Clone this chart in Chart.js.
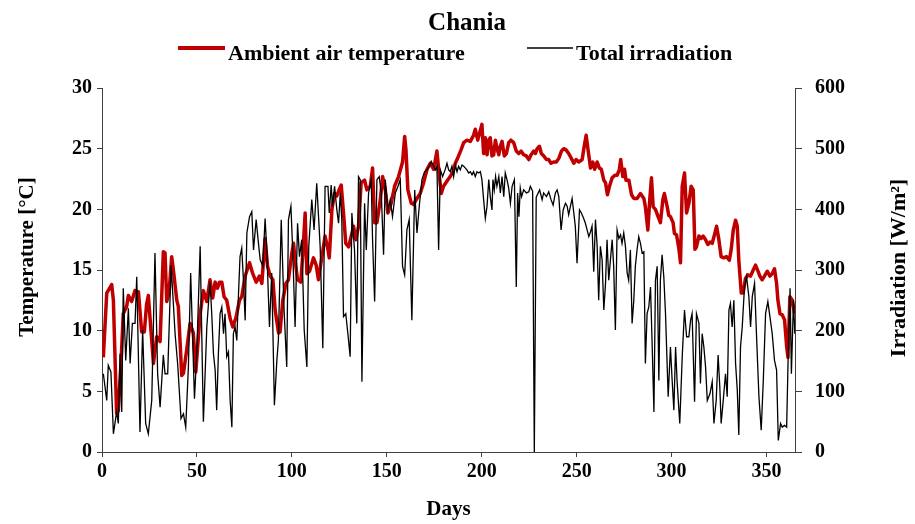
<!DOCTYPE html>
<html>
<head>
<meta charset="utf-8">
<title>Chania</title>
<script src="https://cdn.jsdelivr.net/npm/chart.js@4.4.1/dist/chart.umd.min.js"></script>
<style>
    body { margin: 0; background: #fff; }
    #wrap { width: 915px; height: 524px; position: relative; }
</style>
</head>
<body>
<div id="wrap"><canvas id="chart"></canvas></div>
<script>
// Chart texts
const chartTitle = 'Chania';
const tempLabel = 'Ambient air temperature';
const irrLabel = 'Total irradiation';
const tempAxisTitle = 'Temperature [°C]';
const irrAxisTitle = 'Irradiation [W/m²]';
const dayAxisTitle = 'Days';

// Axis ranges / ticks
const dayTicks = [0, 50, 100, 150, 200, 250, 300, 350];
const tempTicks = [0, 5, 10, 15, 20, 25, 30];
const irrTicks = [0, 100, 200, 300, 400, 500, 600];

// Ambient air temperature (°C)
const tempDays = [0.7, 2.5, 5.1, 6.0, 7.7, 8.6, 10.0, 11.2, 13.0, 13.9, 15.6, 17.4, 19.2, 20.9, 22.3, 23.5, 24.4, 27.1, 28.8, 30.6,
    32.3, 33.2, 34.1, 35.3, 36.7, 37.6, 39.4, 40.2, 42.0, 42.9, 44.6, 46.4, 48.1, 49.4, 51.7, 53.4, 55.2, 56.9, 58.3, 59.6,
    60.8, 61.9, 63.1, 64.3, 65.7, 67.5, 68.9, 70.6, 72.4, 73.6, 75.4, 77.7, 79.4, 81.2, 82.9, 84.2, 85.9, 87.2, 88.6, 90.0,
    91.2, 93.0, 93.8, 95.2, 96.9, 98.2, 100.0, 100.9, 101.7, 103.0, 104.7, 105.8, 107.0, 107.9, 109.3, 111.4, 112.8, 114.0, 115.8, 117.5,
    119.0, 119.7, 121.1, 122.5, 123.7, 124.9, 126.0, 127.2, 128.4, 129.9, 131.3, 132.5, 133.7, 135.1, 136.5, 138.3, 139.5, 141.3, 142.5, 143.6,
    144.8, 146.6, 147.8, 149.2, 150.6, 152.3, 154.1, 156.2, 158.3, 159.4, 160.1, 161.1, 162.9, 164.1, 165.9, 167.6, 169.4, 171.2, 172.9, 174.7,
    176.4, 177.7, 178.7, 179.9, 182.0, 183.4, 184.9, 186.1, 187.8, 189.1, 190.5, 192.2, 194.0, 195.7, 196.6, 197.9, 198.9, 200.1, 201.0, 201.9,
    202.8, 203.7, 204.5, 205.4, 206.3, 207.2, 208.1, 209.0, 209.8, 210.7, 211.9, 213.0, 214.2, 215.4, 216.8, 218.2, 219.5, 220.7, 222.1, 223.5,
    224.8, 226.0, 227.4, 228.3, 229.2, 230.4, 231.4, 232.7, 234.1, 235.3, 236.5, 237.9, 239.3, 240.6, 242.0, 243.2, 244.4, 245.8, 247.2, 248.5,
    249.7, 251.1, 252.9, 254.1, 255.0, 256.0, 257.3, 258.5, 259.5, 260.8, 262.0, 263.0, 264.3, 265.2, 266.2, 267.3, 268.7, 270.1, 271.3, 272.5,
    273.2, 274.3, 275.2, 276.0, 277.5, 278.9, 280.1, 281.8, 283.6, 285.4, 286.2, 287.5, 288.5, 289.4, 290.3, 291.5, 292.9, 294.1, 295.4, 296.2,
    297.7, 298.5, 299.4, 300.8, 301.5, 302.6, 303.8, 304.7, 305.6, 306.8, 307.9, 309.1, 310.3, 311.4, 312.3, 313.1, 314.4, 315.6, 316.6, 317.9,
    319.1, 320.2, 321.4, 322.6, 323.7, 324.9, 326.1, 327.5, 328.9, 330.4, 331.4, 332.5, 333.7, 334.6, 335.4, 336.7, 337.7, 338.9, 340.2, 341.6,
    343.0, 344.2, 345.5, 346.5, 347.7, 348.9, 350.4, 351.8, 353.0, 354.2, 355.3, 356.0, 357.1, 358.3, 359.5, 360.6, 361.3, 362.3, 363.6, 364.8];
const tempValues = [7.8, 13.1, 13.8, 12.5, 3.2, 3.4, 7.3, 11.4, 12.0, 12.9, 12.4, 13.3, 13.2, 9.9, 9.9, 12.2, 12.9, 7.3, 9.5, 9.1,
    16.5, 16.4, 12.4, 13.1, 16.1, 15.0, 12.5, 12.0, 6.3, 6.5, 8.4, 10.6, 9.8, 6.6, 11.4, 13.3, 12.4, 14.2, 12.7, 14.0,
    13.5, 14.0, 14.0, 12.8, 12.5, 11.0, 10.3, 11.1, 12.5, 12.8, 14.5, 15.6, 14.7, 14.0, 14.5, 13.9, 17.6, 15.3, 14.5, 14.2,
    11.7, 9.8, 9.9, 12.5, 13.9, 14.2, 16.4, 17.2, 15.8, 14.2, 14.0, 16.4, 19.7, 14.7, 14.9, 16.0, 15.4, 14.2, 16.1, 17.8,
    16.7, 16.0, 20.0, 21.3, 21.1, 21.6, 22.0, 19.7, 17.2, 16.9, 17.8, 18.6, 17.5, 18.6, 22.2, 22.4, 21.6, 21.9, 23.4, 18.9,
    18.9, 20.8, 22.7, 21.6, 19.7, 20.5, 21.9, 22.7, 23.9, 26.0, 24.9, 21.6, 20.5, 20.4, 20.9, 21.3, 22.2, 23.3, 23.8, 23.3,
    24.8, 22.7, 21.3, 21.9, 22.4, 22.7, 23.1, 23.8, 24.4, 24.9, 25.5, 25.7, 25.6, 26.1, 26.6, 25.7, 26.3, 27.0, 24.6, 25.9,
    24.5, 25.7, 25.9, 24.4, 24.5, 25.7, 25.0, 24.5, 25.2, 25.6, 24.4, 24.6, 25.5, 25.7, 25.5, 24.8, 24.6, 24.8, 24.5, 24.4,
    24.1, 24.5, 24.8, 24.6, 25.0, 25.2, 24.6, 24.4, 24.1, 24.1, 23.8, 23.9, 23.9, 24.2, 24.8, 25.0, 24.9, 24.6, 24.2, 23.8,
    24.1, 23.9, 24.1, 25.3, 26.1, 24.9, 23.4, 23.9, 23.3, 23.9, 23.4, 23.3, 22.4, 22.2, 21.2, 21.9, 22.6, 22.8, 22.8, 23.3,
    24.1, 22.7, 23.3, 22.4, 22.4, 21.2, 20.9, 20.9, 21.3, 20.9, 20.2, 18.3, 20.8, 22.6, 20.2, 20.0, 19.4, 18.9, 20.8, 21.3,
    20.2, 19.5, 19.4, 18.9, 18.0, 17.9, 16.8, 15.6, 21.9, 23.0, 19.7, 20.5, 21.9, 21.6, 16.7, 16.9, 17.8, 17.6, 17.8, 17.5,
    17.1, 17.3, 17.2, 17.9, 18.6, 17.5, 16.1, 16.0, 16.1, 15.8, 16.7, 18.3, 19.1, 18.6, 15.8, 13.1, 13.1, 14.3, 14.6, 14.5,
    15.0, 15.4, 14.9, 14.5, 14.2, 14.5, 14.9, 14.5, 14.7, 15.1, 13.9, 12.5, 11.4, 11.3, 10.9, 8.7, 7.8, 12.8, 12.5, 11.4];

// Total irradiation (W/m²)
const irrDays = [0.7, 2.5, 3.3, 4.7, 6.0, 7.7, 8.6, 9.5, 10.4, 11.2, 12.5, 13.9, 14.8, 16.0, 17.4, 18.3, 20.0, 21.4, 23.0, 24.4,
    26.2, 27.9, 29.3, 30.6, 32.3, 33.2, 34.6, 36.4, 38.5, 39.9, 41.6, 42.9, 44.1, 45.5, 46.7, 48.7, 49.9, 51.7, 53.4, 55.2,
    56.9, 57.8, 58.7, 59.6, 60.4, 61.3, 62.2, 63.1, 64.0, 64.8, 65.7, 66.6, 67.5, 68.4, 69.2, 70.1, 71.0, 71.9, 72.7, 73.6,
    74.5, 75.4, 76.3, 77.7, 78.9, 79.8, 81.2, 82.4, 83.3, 84.7, 85.9, 86.8, 88.2, 89.4, 90.8, 92.1, 92.9, 94.4, 95.9, 97.3,
    98.2, 99.5, 100.5, 101.7, 103.0, 104.0, 105.2, 106.5, 107.9, 108.9, 110.5, 111.7, 113.1, 114.9, 116.3, 117.5, 119.0, 119.7, 120.7, 121.4,
    122.5, 123.7, 124.6, 125.5, 126.3, 127.2, 128.4, 129.5, 130.7, 131.6, 133.0, 134.2, 135.1, 136.0, 136.9, 138.3, 139.2, 140.4, 141.8, 142.5,
    143.6, 144.8, 146.0, 147.1, 148.3, 149.2, 150.6, 151.8, 153.0, 154.5, 155.9, 157.1, 158.3, 159.4, 160.6, 161.8, 163.2, 164.7, 165.9, 167.1,
    168.5, 169.9, 171.2, 172.4, 173.4, 174.7, 175.6, 176.4, 177.3, 178.2, 179.4, 180.7, 181.7, 182.6, 183.4, 184.3, 185.2, 186.1, 187.0, 187.8,
    188.7, 189.6, 190.5, 191.4, 192.2, 193.1, 194.0, 194.9, 195.7, 196.6, 197.5, 198.4, 199.3, 200.1, 201.0, 201.9, 202.8, 203.7, 204.5, 205.4,
    205.9, 206.6, 207.3, 208.0, 209.0, 209.8, 210.7, 211.6, 212.4, 213.3, 214.2, 215.1, 216.0, 217.2, 218.2, 218.9, 219.6, 220.3, 221.0, 222.1,
    223.5, 224.8, 225.6, 226.8, 227.7, 228.7, 230.5, 231.8, 232.6, 234.1, 235.3, 236.5, 237.6, 238.8, 239.7, 240.6, 241.8, 242.9, 244.1, 245.0,
    245.8, 246.7, 247.6, 248.5, 249.3, 250.2, 251.5, 252.5, 253.7, 254.6, 255.5, 256.4, 257.3, 258.1, 259.0, 259.9, 260.8, 261.6, 262.5, 263.4,
    264.3, 265.2, 266.0, 266.9, 267.8, 268.7, 269.5, 270.4, 271.3, 272.2, 273.1, 273.9, 274.8, 275.7, 276.6, 277.4, 278.3, 279.2, 280.1, 280.9,
    281.8, 282.7, 283.6, 284.5, 285.4, 286.2, 287.1, 288.0, 288.9, 289.8, 290.7, 291.5, 292.4, 293.3, 294.1, 295.0, 295.9, 296.8, 298.2, 299.4,
    300.3, 301.2, 302.1, 302.9, 304.3, 305.6, 306.8, 307.9, 309.1, 310.0, 310.8, 312.1, 313.1, 314.4, 315.2, 316.1, 317.0, 317.9, 318.8, 320.2,
    321.4, 322.3, 323.5, 324.5, 325.4, 326.1, 327.2, 328.4, 329.3, 330.2, 331.0, 331.9, 332.8, 333.7, 334.6, 335.4, 336.3, 337.2, 338.4, 339.5,
    340.7, 341.6, 342.5, 343.7, 344.7, 346.0, 347.2, 348.3, 349.5, 350.7, 351.8, 353.0, 354.2, 355.3, 356.2, 357.4, 358.3, 359.5, 360.6, 361.4,
    362.4, 363.1, 364.2, 364.9];
const irrValues = [129, 85, 143, 132, 30, 66, 47, 162, 66, 270, 151, 237, 146, 212, 212, 289, 33, 201, 47, 30,
    85, 328, 129, 74, 160, 129, 129, 308, 195, 143, 55, 63, 41, 140, 295, 88, 162, 339, 50, 206,
    281, 228, 162, 135, 69, 162, 228, 239, 195, 228, 157, 165, 85, 41, 195, 206, 184, 261, 322, 336,
    283, 217, 361, 388, 396, 333, 383, 344, 317, 306, 385, 333, 206, 295, 77, 151, 184, 383, 234, 140,
    383, 405, 328, 206, 377, 322, 350, 201, 140, 339, 416, 366, 443, 339, 171, 438, 438, 394, 440, 405,
    438, 399, 377, 427, 383, 223, 228, 195, 157, 394, 333, 212, 454, 449, 116, 410, 333, 427, 449, 350,
    248, 449, 454, 427, 325, 449, 399, 416, 388, 427, 438, 449, 306, 292, 366, 383, 217, 432, 361, 405,
    449, 462, 465, 471, 479, 471, 465, 471, 333, 465, 454, 465, 476, 465, 462, 471, 454, 473, 462, 471,
    465, 473, 471, 468, 465, 460, 462, 457, 462, 454, 462, 460, 462, 449, 416, 385, 405, 449, 421, 399,
    449, 432, 454, 438, 454, 427, 454, 421, 460, 449, 435, 410, 438, 449, 272, 427, 388, 435, 421, 432,
    427, 429, 438, 430, 0, 420, 432, 416, 427, 421, 429, 416, 407, 427, 432, 421, 366, 399, 410, 405,
    391, 405, 418, 394, 372, 311, 399, 394, 385, 377, 366, 355, 363, 372, 297, 383, 339, 250, 339, 317,
    234, 278, 350, 283, 317, 350, 306, 201, 366, 352, 358, 344, 361, 339, 295, 283, 333, 212, 250, 306,
    333, 355, 344, 328, 330, 146, 228, 239, 272, 173, 66, 283, 306, 118, 283, 325, 289, 228, 91, 173,
    118, 69, 173, 116, 47, 157, 234, 190, 190, 217, 228, 83, 228, 212, 113, 195, 173, 140, 85, 96,
    116, 47, 85, 160, 107, 47, 85, 129, 91, 234, 245, 206, 250, 146, 102, 28, 173, 206, 272, 289,
    256, 206, 256, 278, 195, 91, 36, 118, 228, 248, 223, 195, 151, 135, 19, 47, 41, 44, 41, 157,
    270, 129, 250, 195];

const SERIF = '"Liberation Serif", "Times New Roman", serif';
const AXIS_COLOR = '#404040';

// Title, legend and rotated axis titles drawn straight on the canvas
const textPlugin = {
    id: 'chartTexts',
    afterDraw(chart) {
        const ctx = chart.ctx;
        ctx.save();
        ctx.fillStyle = '#000';
        ctx.textBaseline = 'alphabetic';

        // Title
        ctx.font = 'bold 25px ' + SERIF;
        ctx.textAlign = 'center';
        ctx.fillText(chartTitle, 467, 30);

        // Legend
        ctx.font = 'bold 22px ' + SERIF;
        ctx.textAlign = 'left';
        ctx.lineCap = 'butt';
        ctx.strokeStyle = '#C00000';
        ctx.lineWidth = 4;
        ctx.beginPath();
        ctx.moveTo(178, 48);
        ctx.lineTo(225, 48);
        ctx.stroke();
        ctx.fillText(tempLabel, 228, 60);

        ctx.strokeStyle = '#000';
        ctx.lineWidth = 1.5;
        ctx.beginPath();
        ctx.moveTo(527, 48);
        ctx.lineTo(573, 48);
        ctx.stroke();
        ctx.fillText(irrLabel, 576, 60);

        // Y axis titles (both read bottom to top)
        ctx.textAlign = 'center';
        ctx.font = 'bold 21px ' + SERIF;
        ctx.save();
        ctx.translate(33, 257);
        ctx.rotate(-Math.PI / 2);
        ctx.fillText(tempAxisTitle, 0, 0);
        ctx.restore();

        ctx.font = 'bold 22px ' + SERIF;
        ctx.save();
        ctx.translate(905, 268);
        ctx.rotate(-Math.PI / 2);
        ctx.fillText(irrAxisTitle, 0, 0);
        ctx.restore();

        ctx.restore();
    }
};

const tickFont = { family: SERIF, size: 20, weight: 'bold' };

new Chart(document.getElementById('chart'), {
    type: 'line',
    data: {
        datasets: [{
            label: tempLabel,
            data: tempDays.map((d, i) => ({ x: d, y: tempValues[i] })),
            borderColor: '#C00000',
            borderWidth: 3.5,
            borderJoinStyle: 'round',
            pointRadius: 0,
            tension: 0,
            yAxisID: 'yTemp',
            order: 1
        }, {
            label: irrLabel,
            data: irrDays.map((d, i) => ({ x: d, y: irrValues[i] })),
            borderColor: '#000000',
            borderWidth: 1.3,
            pointRadius: 0,
            tension: 0,
            yAxisID: 'yIrr',
            order: 0
        }]
    },
    options: {
        responsive: true,
        maintainAspectRatio: false,
        animation: false,
        devicePixelRatio: 1,
        layout: { padding: { top: 88, left: 0, right: 0, bottom: 0 } },
        plugins: {
            legend: { display: false },
            title: { display: false },
            tooltip: { enabled: false }
        },
        scales: {
            x: {
                type: 'linear',
                min: 0,
                max: 365,
                afterFit: (scale) => { scale.height = 72; },
                afterBuildTicks: (scale) => { scale.ticks = dayTicks.map(v => ({ value: v })); },
                ticks: { font: tickFont, color: '#000', padding: 3, maxRotation: 0 },
                grid: { drawOnChartArea: false, tickLength: 5, color: AXIS_COLOR },
                border: { color: AXIS_COLOR, width: 1 },
                title: {
                    display: true,
                    text: dayAxisTitle,
                    color: '#000',
                    font: { family: SERIF, size: 21, weight: 'bold' },
                    padding: { top: 0, bottom: 2 }
                }
            },
            yTemp: {
                position: 'left',
                min: 0,
                max: 30,
                afterFit: (scale) => { scale.width = 102; },
                afterBuildTicks: (scale) => { scale.ticks = tempTicks.map(v => ({ value: v })); },
                ticks: { font: tickFont, color: '#000', padding: 5 },
                grid: { drawOnChartArea: false, tickLength: 5, color: AXIS_COLOR },
                border: { color: AXIS_COLOR, width: 1 }
            },
            yIrr: {
                position: 'right',
                min: 0,
                max: 600,
                afterFit: (scale) => { scale.width = 120; },
                afterBuildTicks: (scale) => { scale.ticks = irrTicks.map(v => ({ value: v })); },
                ticks: { font: tickFont, color: '#000', padding: 13 },
                grid: { drawOnChartArea: false, tickLength: 7, color: AXIS_COLOR },
                border: { color: AXIS_COLOR, width: 1 }
            }
        }
    },
    plugins: [textPlugin]
});
</script>
</body>
</html>
